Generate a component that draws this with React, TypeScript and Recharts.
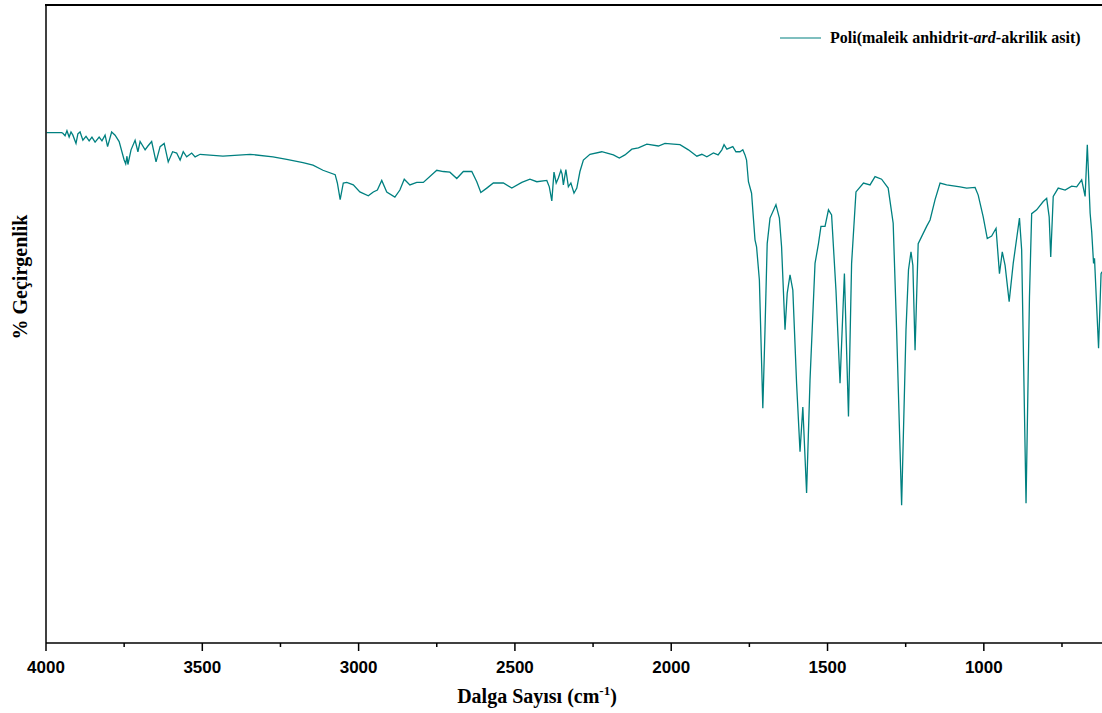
import { LineChart, Line, XAxis, YAxis, Label } from 'recharts';

// wavenumber (cm-1) from left to right
const wavenumbers = [
  3998, 3950, 3946, 3939, 3933, 3926, 3920, 3914, 3904, 3898, 3891, 3882, 3872, 3862, 3853, 3843,
  3830, 3821, 3811, 3803, 3790, 3779, 3766, 3750, 3745, 3741, 3738, 3728, 3715, 3706, 3699, 3683,
  3674, 3662, 3648, 3635, 3622, 3609, 3595, 3582, 3571, 3561, 3550, 3534, 3523, 3507, 3434, 3347,
  3274, 3230, 3178, 3146, 3114, 3075, 3068, 3059, 3049, 3038, 3017, 2996, 2969, 2953, 2940, 2926,
  2910, 2884, 2868, 2854, 2836, 2814, 2793, 2750, 2729, 2708, 2686, 2665, 2638, 2622, 2609, 2590,
  2569, 2537, 2510, 2478, 2452, 2430, 2398, 2390, 2382, 2375, 2368, 2361, 2353, 2349, 2345, 2337,
  2329, 2321, 2311, 2302, 2292, 2281, 2260, 2222, 2185, 2166, 2148, 2126, 2105, 2078, 2041, 2020,
  1993, 1972, 1945, 1918, 1902, 1886, 1865, 1850, 1838, 1831, 1822, 1803, 1793, 1780, 1771, 1764,
  1759, 1753, 1743, 1732, 1727, 1718, 1707, 1700, 1693, 1684, 1665, 1654, 1647, 1636, 1629, 1620,
  1611, 1599, 1588, 1579, 1567, 1556, 1540, 1529, 1521, 1508, 1497, 1487, 1473, 1460, 1446, 1433,
  1423, 1409, 1385, 1364, 1348, 1327, 1306, 1290, 1279, 1263, 1249, 1241, 1233, 1227, 1220, 1210,
  1199, 1183, 1172, 1156, 1140, 1119, 1076, 1055, 1028, 1018, 1002, 989, 975, 961, 950, 941,
  932, 919, 906, 886, 879, 865, 854, 847, 831, 810, 799, 791, 786, 778, 762, 740,
  719, 703, 687, 676, 669, 660, 655, 649, 646, 633, 625, 622,
];

// % transmittance (relative, the axis carries no ticks)
const transmittance = [
  80.0, 80.0, 79.9, 79.5, 80.3, 79.3, 80.1, 79.6, 78.3, 79.8, 80.1, 78.8, 79.4, 78.7, 79.3, 78.5,
  79.3, 78.7, 79.6, 77.8, 80.1, 79.6, 78.6, 75.7, 75.1, 76.3, 75.0, 77.3, 78.8, 77.0, 78.6, 77.3,
  77.9, 78.6, 75.4, 77.8, 78.3, 75.4, 77.0, 76.8, 75.7, 77.0, 76.2, 76.8, 76.2, 76.6, 76.3, 76.6,
  76.2, 75.8, 75.3, 74.9, 74.1, 73.4, 72.1, 69.5, 72.1, 72.2, 71.8, 70.7, 70.1, 70.7, 71.0, 72.5,
  70.7, 69.9, 71.0, 72.7, 71.8, 72.2, 72.2, 74.1, 73.9, 73.8, 72.8, 73.9, 73.9, 72.3, 70.6, 71.3,
  72.1, 72.1, 71.3, 72.2, 72.7, 72.3, 72.5, 71.5, 69.3, 73.8, 72.1, 72.9, 74.1, 73.5, 71.8, 74.2,
  71.5, 72.1, 70.5, 71.3, 73.9, 75.7, 76.6, 77.0, 76.5, 76.0, 76.5, 77.4, 77.6, 78.2, 77.9, 78.3,
  78.2, 78.1, 77.3, 76.3, 76.6, 76.2, 76.8, 76.5, 77.3, 78.1, 77.4, 77.8, 77.0, 77.0, 77.3, 76.5,
  75.7, 72.3, 70.5, 63.2, 62.1, 56.9, 36.8, 49.1, 62.6, 66.6, 68.7, 66.6, 62.1, 49.1, 54.8, 57.7,
  55.3, 40.7, 30.0, 37.0, 23.5, 41.2, 59.5, 62.6, 65.3, 65.3, 67.9, 67.1, 55.3, 40.7, 57.9, 35.5,
  59.5, 70.7, 72.1, 71.8, 73.1, 72.7, 71.3, 65.8, 49.1, 21.6, 49.1, 58.5, 61.3, 59.2, 45.9, 62.6,
  63.7, 65.3, 66.3, 69.5, 72.1, 71.8, 71.5, 71.3, 71.4, 70.2, 66.8, 63.4, 63.8, 65.0, 57.9, 61.3,
  59.2, 53.5, 59.5, 66.6, 61.6, 21.9, 54.3, 67.3, 67.9, 69.2, 69.7, 66.8, 60.5, 70.0, 71.3, 71.0,
  71.6, 71.5, 72.6, 70.0, 78.1, 67.4, 64.5, 59.5, 60.3, 46.2, 57.9, 58.2,
];

const xTicks = [4000, 3750, 3500, 3250, 3000, 2750, 2500, 2250, 2000, 1750, 1500, 1250, 1000, 750];

const spectrum = wavenumbers.map((wn, i) => ({ wn, t: transmittance[i] }));

const LINE_COLOR = '#008080';

const AxisTick = (props: any) => {
  const { x, y, payload } = props;
  const major = payload.value % 500 === 0;
  return (
    <g>
      <line x1={x} y1={y} x2={x} y2={y + (major ? 8 : 4)} stroke="#000" strokeWidth={1.5} />
      {major && (
        <text
          x={x}
          y={y + 30}
          textAnchor="middle"
          fill="#000"
          style={{ fontFamily: '"Liberation Sans", Arial, sans-serif', fontWeight: 'bold', fontSize: 17 }}
        >
          {payload.value}
        </text>
      )}
    </g>
  );
};

const titleStyle = {
  fontFamily: '"Liberation Serif", "Times New Roman", serif',
  fontWeight: 'bold',
  fontSize: 20,
};

export default function App() {
  return (
    <div style={{ position: 'absolute', left: 0, top: 0, width: 1102, height: 713 }}>
      <LineChart width={1102} height={713} data={spectrum} margin={{ top: 5, right: 0, bottom: 0, left: 0 }}>
        <XAxis
          dataKey="wn"
          type="number"
          domain={[622, 4000]}
          reversed
          allowDataOverflow
          ticks={xTicks}
          interval={0}
          tickLine={false}
          tickSize={0}
          tickMargin={0}
          tick={<AxisTick />}
          height={70}
          axisLine={{ stroke: '#000', strokeWidth: 1.5 }}
        >
          <Label
            content={() => (
              <text x={537} y={703} textAnchor="middle" fill="#000" style={titleStyle}>
                Dalga Sayısı (cm
                <tspan dy={-8} fontSize={13}>-1</tspan>
                <tspan dy={8}>)</tspan>
              </text>
            )}
          />
        </XAxis>
        <YAxis
          type="number"
          domain={[0, 100]}
          width={46}
          tick={false}
          tickLine={false}
          axisLine={{ stroke: '#000', strokeWidth: 1.5 }}
        >
          <Label
            content={() => (
              <text
                x={27}
                y={277}
                textAnchor="middle"
                fill="#000"
                transform="rotate(-90, 27, 277)"
                style={titleStyle}
              >
                % Geçirgenlik
              </text>
            )}
          />
        </YAxis>
        <Line
          type="linear"
          dataKey="t"
          name="Poli(maleik anhidrit-ard-akrilik asit)"
          stroke={LINE_COLOR}
          strokeWidth={1.3}
          dot={false}
          isAnimationActive={false}
        />
      </LineChart>
      {/* top frame of the plot */}
      <div style={{ position: 'absolute', top: 4, left: 45, width: 1057, height: 1.5, background: '#000' }} />
      <div style={{ position: 'absolute', top: 29, left: 780, display: 'flex', alignItems: 'center' }}>
        <svg width={41} height={4}>
          <line x1={0} y1={2} x2={41} y2={2} stroke={LINE_COLOR} strokeWidth={1.2} />
        </svg>
        <span
          style={{
            marginLeft: 9,
            fontFamily: '"Liberation Serif", "Times New Roman", serif',
            fontWeight: 'bold',
            fontSize: 16,
            color: '#000',
            whiteSpace: 'nowrap',
          }}
        >
          Poli(maleik anhidrit-<i>ard</i>-akrilik asit)
        </span>
      </div>
    </div>
  );
}
